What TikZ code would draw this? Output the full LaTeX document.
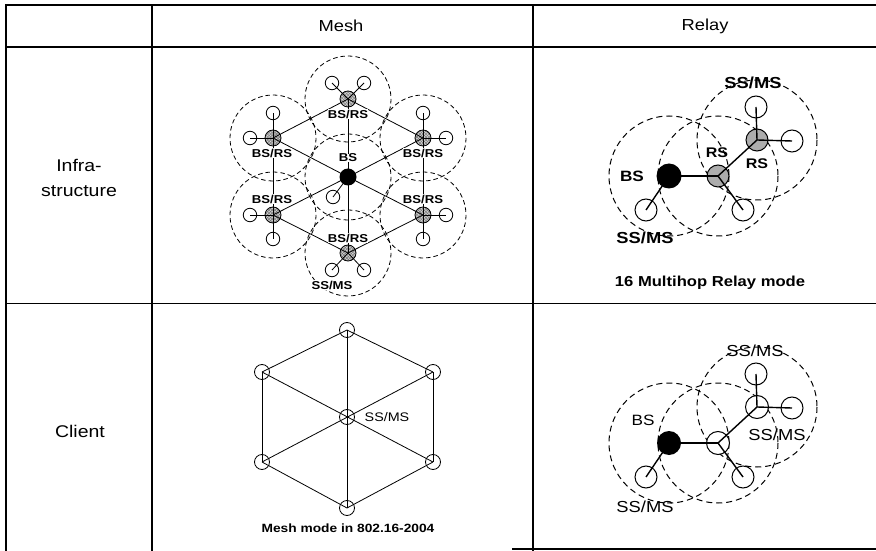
\documentclass[tikz,border=0pt]{standalone}
\usepackage{fontspec}
\setmainfont{Liberation Sans}[FakeStretch=1.15]
\usetikzlibrary{patterns}
\newcommand{\txtsize}[1]{\fontsize{#1}{1.4\dimexpr #1pt\relax}\selectfont}

\tikzset{
  cell/.style={line width=2bp},
  mcover/.style={dash pattern=on 4.5bp off 3bp, line width=0.8bp},
  rcover/.style={dash pattern=on 6bp off 4bp, line width=1bp},
  mlink/.style={line width=0.8bp},
  rlink/.style={line width=1.4bp},
  mss/.style={circle, draw, fill=white, inner sep=0pt, minimum size=13.5bp, line width=0.8bp},
  mrs/.style={circle, draw, preaction={fill=gray!35}, pattern=crosshatch, pattern color=gray!90!black,
    inner sep=0pt, minimum size=16bp, line width=0.8bp},
  mbs/.style={circle, fill=black, inner sep=0pt, minimum size=17bp},
  mtag/.style={fill=white, inner sep=0.3bp, font=\bfseries\txtsize{11.5}},
  rss/.style={circle, draw, fill=white, inner sep=0pt, minimum size=22bp, line width=1bp},
  rrs/.style={circle, draw, fill=gray!65, inner sep=0pt, minimum size=22bp, line width=1bp},
  rbs/.style={circle, fill=black, inner sep=0pt, minimum size=25bp},
  rtag/.style={inner sep=0pt, font=\bfseries\txtsize{15}},
  ctag/.style={inner sep=0pt, font=\txtsize{15}},
  caption/.style={inner sep=0pt, font=\bfseries\txtsize{12}},
}

\begin{document}
\begin{tikzpicture}[x=1bp, y=-1bp, font=\txtsize{16}]
\useasboundingbox (0,0) rectangle (876,551);

% table grid
\draw[cell] (5,5) -- (876,5);
\draw[cell] (5,47) -- (876,47);
\draw[line width=1bp] (5,304) -- (876,304);
\draw[cell] (6,5) -- (6,551);
\draw[cell] (152,5) -- (152,551);
\draw[line width=1.4bp] (533,5) -- (533,551);
\draw[cell] (512,549) -- (876,549);

\node (mesh) at (341,26) {Mesh};
\node (relay) at (705,26) {Relay};
\node[align=center, font={\fontsize{17}{25}\selectfont}] (infra) at (79,178) {Infra-\\structure};
\node[font=\txtsize{17}] (client) at (80,431) {Client};

% mesh, infrastructure
\foreach \x/\y in {348/99, 273/138, 423/138, 273/215, 423/215, 348/253, 348/177}
  \draw[mcover] (\x,\y) circle (43);

\node[mbs] (mc) at (348,177) {};
\node[mrs] (mt) at (348,99) {};
\node[mrs] (mul) at (273,138) {};
\node[mrs] (mur) at (423,138) {};
\node[mrs] (mll) at (273,215) {};
\node[mrs] (mlr) at (423,215) {};
\node[mrs] (mb) at (348,253) {};

\node[mss] (mt1) at (332,83) {};
\node[mss] (mt2) at (364,83) {};
\node[mss] (mul1) at (273,113) {};
\node[mss] (mul2) at (250,138) {};
\node[mss] (mur1) at (423,113) {};
\node[mss] (mur2) at (446,138) {};
\node[mss] (mll1) at (250,215) {};
\node[mss] (mll2) at (273,239) {};
\node[mss] (mlr1) at (446,215) {};
\node[mss] (mlr2) at (423,239) {};
\node[mss] (mb1) at (332,270) {};
\node[mss] (mb2) at (364,270) {};
\node[mss] (mc1) at (333,197) {};

\foreach \a/\b in {mc/mt, mc/mul, mc/mur, mc/mll, mc/mlr, mc/mb,
    mt/mul, mt/mur, mul/mll, mur/mlr, mll/mb, mlr/mb,
    mt/mt1, mt/mt2, mul/mul1, mul/mul2, mur/mur1, mur/mur2,
    mll/mll1, mll/mll2, mlr/mlr1, mlr/mlr2, mb/mb1, mb/mb2, mc/mc1}
  \draw[mlink] (\a.center) -- (\b.center);

\node[mtag] (mtT) at (348,114) {BS/RS};
\node[mtag] (mulT) at (272,153) {BS/RS};
\node[mtag] (murT) at (423,153) {BS/RS};
\node[mtag] (mllT) at (272,199) {BS/RS};
\node[mtag] (mlrT) at (423,199) {BS/RS};
\node[mtag] (mbT) at (348,238) {BS/RS};
\node[mtag] (mcT) at (348,158) {BS};
\node[mtag] (mssT) at (332,285) {SS/MS};

% mesh, client
\node[mss, minimum size=15bp] (ht) at (347,330) {};
\node[mss, minimum size=15bp] (hul) at (262,372) {};
\node[mss, minimum size=15bp] (hur) at (433,372) {};
\node[mss, minimum size=15bp] (hc) at (347,417) {};
\node[mss, minimum size=15bp] (hll) at (262,462) {};
\node[mss, minimum size=15bp] (hlr) at (433,462) {};
\node[mss, minimum size=15bp] (hb) at (347,508) {};
\foreach \a/\b in {ht/hul, ht/hur, hul/hll, hur/hlr, hll/hb, hlr/hb,
    ht/hb, hul/hlr, hur/hll}
  \draw[mlink] (\a.center) -- (\b.center);
\node[inner sep=0pt, font=\txtsize{12.5}] (hcT) at (387,417) {SS/MS};
\node[caption] (meshCap) at (348,528) {Mesh mode in 802.16-2004};

% relay, infrastructure
\foreach \x/\y in {669/176, 718/176, 757/140}
  \draw[rcover] (\x,\y) circle (60);
\node[rbs] (rb) at (669,176) {};
\node[rrs] (rr1) at (718,176) {};
\node[rrs] (rr2) at (757,140) {};
\node[rss] (rs1) at (646,210) {};
\node[rss] (rs2) at (743,210) {};
\node[rss] (rs3) at (756,107) {};
\node[rss] (rs4) at (792,141) {};
\foreach \a/\b in {rb/rr1, rr1/rr2, rb/rs1, rr1/rs2, rr2/rs3, rr2/rs4}
  \draw[rlink] (\a.center) -- (\b.center);
\node[rtag] (rbT) at (632,176) {BS};
\node[rtag, font=\bfseries\txtsize{14}] (rr1T) at (717,153) {RS};
\node[rtag, font=\bfseries\txtsize{14}] (rr2T) at (757,164) {RS};
\node[rtag, font=\bfseries\txtsize{16}] (rs3T) at (753,83) {SS/MS};
\node[rtag, font=\bfseries\txtsize{16}] (rs1T) at (645,238) {SS/MS};
\node[caption, font=\bfseries\txtsize{14.5}] (relayCap) at (710,283) {16 Multihop Relay mode};

% relay, client
\foreach \x/\y in {669/443, 718/443, 757/407}
  \draw[rcover] (\x,\y) circle (60);
\node[rbs, minimum size=24bp] (cb) at (669,443) {};
\node[rss, minimum size=23bp] (cr1) at (718,443) {};
\node[rss, minimum size=23bp] (cr2) at (757,407) {};
\node[rss] (cs1) at (646,477) {};
\node[rss] (cs2) at (743,477) {};
\node[rss] (cs3) at (756,374) {};
\node[rss] (cs4) at (792,408) {};
\foreach \a/\b in {cb/cr1, cr1/cr2, cb/cs1, cr1/cs2, cr2/cs3, cr2/cs4}
  \draw[rlink] (\a.center) -- (\b.center);
\node[ctag] (cbT) at (643,420) {BS};
\node[ctag, font=\txtsize{16}] (cs3T) at (755,351) {SS/MS};
\node[ctag, font=\txtsize{16}] (cr2T) at (777,435) {SS/MS};
\node[ctag, font=\txtsize{16}] (cs1T) at (645,507) {SS/MS};

\end{tikzpicture}
\end{document}
